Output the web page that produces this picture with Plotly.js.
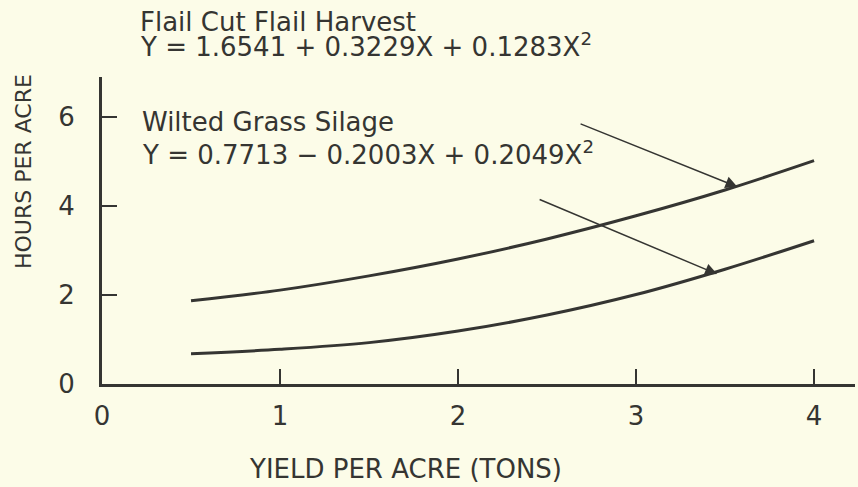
<!DOCTYPE html>
<html>
<head>
<meta charset="utf-8">
<script src="https://cdn.plot.ly/plotly-3.0.1.min.js"></script>
<style>
  html, body { margin: 0; padding: 0; background: #fcfce8; }
  #chart { width: 858px; height: 487px; }
</style>
</head>
<body>
<div id="chart"></div>
<script>
// Data
const yieldTons   = [0.5, 1.0, 1.5, 2.0, 2.5, 3.0, 3.5, 4.0];
const flailHours  = [1.87, 2.11, 2.43, 2.81, 3.26, 3.78, 4.36, 5.02];
const wiltedHours = [0.68, 0.78, 0.93, 1.19, 1.55, 2.01, 2.58, 3.22];

const xTickVals = [0, 1, 2, 3, 4];
const xTickText = ['0', '1', '2', '3', '4'];
const yTickVals = [0, 2, 4, 6];
const yTickText = ['0', '2', '4', '6'];

const flailName  = 'Flail Cut Flail Harvest';
const flailEq    = 'Y = 1.6541 + 0.3229X + 0.1283X<sup>2</sup>';
const wiltedName = 'Wilted Grass Silage';
const wiltedEq   = 'Y = 0.7713 − 0.2003X + 0.2049X<sup>2</sup>';
const xTitle = 'YIELD PER ACRE (TONS)';
const yTitle = 'HOURS PER ACRE';

const ink = '#353532';
const FONT = '"DejaVu Sans", sans-serif';

const traces = [
  { x: yieldTons, y: flailHours, mode: 'lines', name: flailName,
    line: { color: ink, width: 3, shape: 'spline' }, hoverinfo: 'skip' },
  { x: yieldTons, y: wiltedHours, mode: 'lines', name: wiltedName,
    line: { color: ink, width: 3, shape: 'spline' }, hoverinfo: 'skip' }
];

// plot area: x 102..855 px, y 77..384 px
const px = (p) => (p - 102) / 753;
const py = (p) => (384 - p) / 307;

const txt = (text, x, y, size, extra) => Object.assign({
  text: text, xref: 'paper', yref: 'paper', x: x, y: y,
  xanchor: 'left', yanchor: 'middle', showarrow: false,
  font: { family: FONT, size: size, color: ink }
}, extra || {});

const arrow = (x, y, ax, ay) => ({
  text: '', x: x, y: y, ax: ax, ay: ay, xref: 'x', yref: 'y', axref: 'x', ayref: 'y',
  showarrow: true, arrowhead: 2, arrowsize: 1.6, arrowwidth: 1.5, arrowcolor: ink
});

const layout = {
  width: 858, height: 487,
  margin: { l: 102, r: 3, t: 77, b: 103 },
  paper_bgcolor: '#fcfce8', plot_bgcolor: '#fcfce8',
  showlegend: false,
  font: { family: FONT, color: ink },
  xaxis: {
    range: [0, 4.23], showgrid: false, zeroline: false,
    showline: true, linecolor: ink, linewidth: 3,
    tickmode: 'array', tickvals: xTickVals, ticktext: xTickText,
    ticks: 'inside', ticklen: 15, tickwidth: 1.5, tickcolor: ink,
    ticklabelstandoff: 7,
    tickfont: { family: FONT, size: 26, color: ink }
  },
  yaxis: {
    range: [0, 6.9], showgrid: false, zeroline: false,
    showline: true, linecolor: ink, linewidth: 3,
    tickmode: 'array', tickvals: yTickVals, ticktext: yTickText,
    ticks: 'inside', ticklen: 15, tickwidth: 1.5, tickcolor: ink,
    ticklabelstandoff: 19,
    tickfont: { family: FONT, size: 26, color: ink }
  },
  annotations: [
    txt(flailName, px(138), py(22), 26),
    txt(flailEq, px(138), py(45), 26),
    txt(wiltedName, px(140), py(122), 26),
    txt(wiltedEq, px(140), py(153), 26),
    txt(xTitle, px(405), py(469), 26, { xanchor: 'center' }),
    txt(yTitle, px(23), py(172), 22, { xanchor: 'center', textangle: -90 }),
    arrow(3.57, 4.43, 2.68, 5.86),
    arrow(3.455, 2.47, 2.45, 4.16)
  ]
};

Plotly.newPlot('chart', traces, layout, { staticPlot: true, displayModeBar: false });
</script>
</body>
</html>
